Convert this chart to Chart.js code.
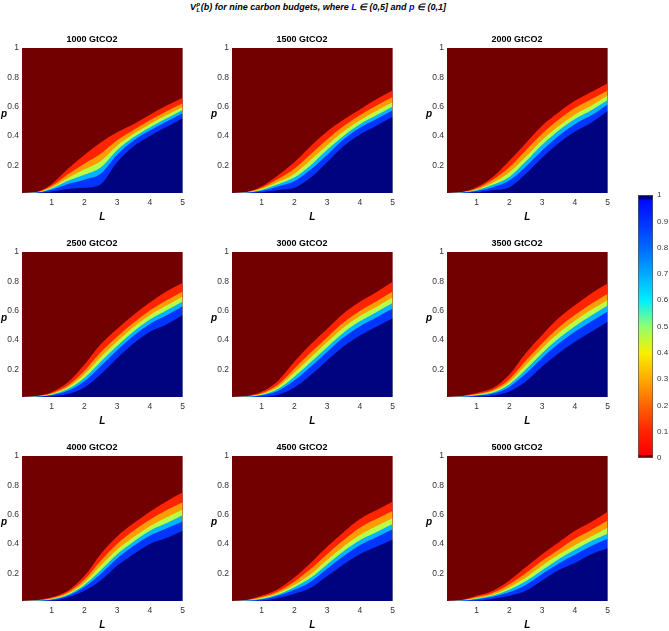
<!DOCTYPE html>
<html>
<head>
<meta charset="utf-8">
<script src="https://cdn.jsdelivr.net/npm/chart.js@4.4.1/dist/chart.umd.min.js"></script>
<style>
  html, body { margin: 0; padding: 0; background: #fff; }
  #page { position: relative; width: 669px; height: 631px; overflow: hidden; }
  .box { position: absolute; }
  #title {
    position: absolute; top: 1px; left: 190px; white-space: nowrap;
    font: italic bold 9px "Liberation Sans", Arial, sans-serif; color: #000;
    line-height: 12px;
  }
  #title .blue { color: #0000ff; }
  #title .ss {
    display: inline-flex; flex-direction: column; vertical-align: middle;
    font-size: 6px; line-height: 5.5px; margin: 0 0.5px;
  }
</style>
</head>
<body>
<div id="page">
  <div id="title">V<span class="ss"><span>p</span><span>L</span></span>(b) for nine carbon budgets, where <span class="blue">L</span> &#8712; (0,5] and <span class="blue">p</span> &#8712; (0,1]</div>
</div>
<script>
  const L_VALUES = [0.1, 0.5, 1, 1.5, 2, 2.5, 3, 3.5, 4, 4.5, 5];
  const BUDGETS = ["1000 GtCO2", "1500 GtCO2", "2000 GtCO2",
                   "2500 GtCO2", "3000 GtCO2", "3500 GtCO2",
                   "4000 GtCO2", "4500 GtCO2", "5000 GtCO2"];

  // p where the value leaves 0 (top of the coloured band), one row per budget
  const EDGE_0 = [
    [0.01, 0.015, 0.07, 0.175, 0.27, 0.355, 0.425, 0.48, 0.545, 0.605, 0.66],
    [0.01, 0.015, 0.055, 0.13, 0.22, 0.33, 0.43, 0.51, 0.58, 0.65, 0.71],
    [0.01, 0.015, 0.05, 0.12, 0.23, 0.35, 0.47, 0.56, 0.64, 0.70, 0.76],
    [0.01, 0.015, 0.042, 0.11, 0.23, 0.37, 0.475, 0.57, 0.655, 0.73, 0.79],
    [0.01, 0.015, 0.045, 0.12, 0.25, 0.37, 0.475, 0.58, 0.66, 0.725, 0.797],
    [0.01, 0.015, 0.037, 0.071, 0.162, 0.309, 0.434, 0.547, 0.637, 0.717, 0.785],
    [0.01, 0.015, 0.035, 0.08, 0.18, 0.33, 0.45, 0.54, 0.62, 0.69, 0.75],
    [0.01, 0.015, 0.045, 0.09, 0.17, 0.27, 0.38, 0.48, 0.57, 0.63, 0.69],
    [0.01, 0.015, 0.045, 0.08, 0.15, 0.24, 0.33, 0.41, 0.49, 0.55, 0.62],
  ];
  // value 0.2 contour
  const EDGE_20 = [
    [0.01, 0.014, 0.057, 0.138, 0.21, 0.278, 0.37, 0.44, 0.506, 0.566, 0.622],
    [0.01, 0.014, 0.045, 0.105, 0.175, 0.275, 0.375, 0.465, 0.54, 0.605, 0.665],
    [0.01, 0.014, 0.041, 0.10, 0.185, 0.30, 0.415, 0.51, 0.59, 0.65, 0.71],
    [0.01, 0.014, 0.035, 0.088, 0.188, 0.315, 0.421, 0.517, 0.601, 0.669, 0.731],
    [0.01, 0.014, 0.036, 0.094, 0.203, 0.313, 0.417, 0.519, 0.598, 0.662, 0.73],
    [0.01, 0.014, 0.030, 0.057, 0.131, 0.257, 0.376, 0.483, 0.57, 0.647, 0.715],
    [0.01, 0.014, 0.029, 0.069, 0.155, 0.285, 0.40, 0.49, 0.565, 0.63, 0.685],
    [0.01, 0.014, 0.037, 0.075, 0.142, 0.228, 0.33, 0.425, 0.51, 0.57, 0.625],
    [0.01, 0.014, 0.037, 0.066, 0.124, 0.20, 0.285, 0.36, 0.435, 0.495, 0.56],
  ];
  // value 0.4 contour
  const EDGE_40 = [
    [0.01, 0.013, 0.048, 0.113, 0.17, 0.227, 0.333, 0.412, 0.48, 0.54, 0.597],
    [0.01, 0.013, 0.037, 0.085, 0.14, 0.235, 0.335, 0.43, 0.505, 0.57, 0.63],
    [0.01, 0.013, 0.034, 0.08, 0.15, 0.255, 0.37, 0.465, 0.545, 0.605, 0.675],
    [0.01, 0.013, 0.030, 0.076, 0.163, 0.282, 0.389, 0.486, 0.569, 0.633, 0.695],
    [0.01, 0.013, 0.031, 0.079, 0.175, 0.28, 0.383, 0.483, 0.561, 0.624, 0.69],
    [0.01, 0.013, 0.026, 0.049, 0.113, 0.226, 0.341, 0.445, 0.53, 0.605, 0.673],
    [0.01, 0.013, 0.025, 0.06, 0.135, 0.25, 0.36, 0.445, 0.52, 0.58, 0.635],
    [0.01, 0.013, 0.03, 0.063, 0.12, 0.193, 0.29, 0.38, 0.46, 0.52, 0.575],
    [0.01, 0.013, 0.03, 0.055, 0.103, 0.168, 0.25, 0.325, 0.39, 0.45, 0.51],
  ];
  // value 0.6 contour
  const EDGE_60 = [
    [0.01, 0.012, 0.04, 0.093, 0.135, 0.184, 0.302, 0.39, 0.458, 0.518, 0.576],
    [0.01, 0.012, 0.031, 0.07, 0.115, 0.20, 0.305, 0.40, 0.48, 0.54, 0.60],
    [0.01, 0.012, 0.029, 0.066, 0.12, 0.225, 0.34, 0.435, 0.515, 0.575, 0.645],
    [0.01, 0.012, 0.026, 0.064, 0.14, 0.251, 0.359, 0.457, 0.539, 0.60, 0.662],
    [0.01, 0.012, 0.026, 0.065, 0.149, 0.248, 0.35, 0.449, 0.527, 0.589, 0.652],
    [0.01, 0.012, 0.022, 0.041, 0.096, 0.197, 0.309, 0.409, 0.493, 0.566, 0.634],
    [0.01, 0.012, 0.021, 0.053, 0.12, 0.22, 0.33, 0.415, 0.49, 0.54, 0.595],
    [0.01, 0.012, 0.025, 0.054, 0.104, 0.168, 0.26, 0.35, 0.425, 0.48, 0.535],
    [0.01, 0.012, 0.025, 0.047, 0.087, 0.144, 0.22, 0.295, 0.36, 0.42, 0.47],
  ];
  // value 0.8 contour
  const EDGE_80 = [
    [0.01, 0.011, 0.032, 0.072, 0.101, 0.141, 0.271, 0.368, 0.436, 0.496, 0.555],
    [0.01, 0.011, 0.025, 0.055, 0.09, 0.17, 0.27, 0.375, 0.455, 0.515, 0.575],
    [0.01, 0.011, 0.024, 0.05, 0.095, 0.19, 0.30, 0.40, 0.48, 0.54, 0.615],
    [0.01, 0.011, 0.022, 0.052, 0.117, 0.22, 0.329, 0.428, 0.509, 0.566, 0.629],
    [0.01, 0.011, 0.021, 0.051, 0.122, 0.217, 0.318, 0.416, 0.492, 0.553, 0.615],
    [0.01, 0.011, 0.019, 0.034, 0.079, 0.168, 0.276, 0.373, 0.455, 0.526, 0.594],
    [0.01, 0.011, 0.018, 0.046, 0.105, 0.195, 0.30, 0.385, 0.455, 0.505, 0.555],
    [0.01, 0.011, 0.02, 0.045, 0.087, 0.142, 0.23, 0.315, 0.39, 0.445, 0.50],
    [0.01, 0.011, 0.02, 0.039, 0.07, 0.12, 0.195, 0.265, 0.325, 0.385, 0.435],
  ];
  // p where the value reaches 1 (top of the dark blue area)
  const EDGE_100 = [
    [0.01, 0.01, 0.02, 0.038, 0.045, 0.07, 0.22, 0.33, 0.40, 0.46, 0.52],
    [0.01, 0.01, 0.015, 0.03, 0.045, 0.115, 0.22, 0.33, 0.41, 0.47, 0.53],
    [0.01, 0.01, 0.015, 0.03, 0.05, 0.14, 0.25, 0.35, 0.43, 0.49, 0.57],
    [0.01, 0.01, 0.015, 0.03, 0.075, 0.165, 0.275, 0.375, 0.455, 0.505, 0.57],
    [0.01, 0.01, 0.012, 0.025, 0.075, 0.16, 0.26, 0.355, 0.43, 0.49, 0.547],
    [0.01, 0.01, 0.012, 0.02, 0.048, 0.116, 0.218, 0.309, 0.388, 0.456, 0.524],
    [0.01, 0.01, 0.012, 0.035, 0.08, 0.15, 0.25, 0.33, 0.40, 0.44, 0.49],
    [0.01, 0.01, 0.012, 0.03, 0.06, 0.10, 0.18, 0.26, 0.33, 0.38, 0.43],
    [0.01, 0.01, 0.012, 0.025, 0.045, 0.08, 0.15, 0.22, 0.27, 0.33, 0.37],
  ];

  const X_TICKS = [1, 2, 3, 4, 5];
  const Y_TICKS = [0.2, 0.4, 0.6, 0.8, 1];
  const COLORBAR_TICKS = [0, 0.1, 0.2, 0.3, 0.4, 0.5, 0.6, 0.7, 0.8, 0.9, 1];

  // styles
  const FONT = '"Liberation Sans", Arial, sans-serif';
  const DARK_RED = "#720000";
  const BANDS = [
    { edges: EDGE_100, color: "#00037f" },
    { edges: EDGE_80, color: "#0034ff" },
    { edges: EDGE_60, color: "#00b4ff" },
    { edges: EDGE_40, color: "#b8ff48" },
    { edges: EDGE_20, color: "#ff9c00" },
    { edges: EDGE_0, color: "#ff2400" },
  ];
  const CMAP = [
    [0, "#720000"], [0.012, "#720000"], [0.013, "#ff0000"],
    [0.1, "#ff2200"], [0.2, "#ff6400"], [0.3, "#ffaa00"],
    [0.4, "#f8f000"], [0.5, "#90ff70"], [0.6, "#00eeff"],
    [0.7, "#00aaff"], [0.8, "#0068ff"], [0.9, "#0030ff"],
    [0.982, "#0008ff"], [0.984, "#00037f"], [1, "#00037f"],
  ];

  const COL_LEFT = [22, 232, 447];
  const ROW_TOP = [48, 252, 456];
  const PLOT_W = 162, PLOT_H = 145, Y_AXIS_W = 22, X_AXIS_H = 30, TITLE_H = 14, PAD_R = 6;

  Chart.defaults.font.family = FONT;

  const page = document.getElementById("page");
  function addCanvas(left, top, w, h) {
    const div = document.createElement("div");
    div.className = "box";
    div.style.cssText = `left:${left}px;top:${top}px;width:${w}px;height:${h}px;`;
    const cv = document.createElement("canvas");
    div.appendChild(cv);
    page.appendChild(div);
    return cv;
  }

  const areaBg = {
    id: "areaBg",
    beforeDraw(chart) {
      const { ctx, chartArea: a } = chart;
      ctx.save();
      ctx.fillStyle = DARK_RED;
      ctx.fillRect(a.left, a.top, a.right - a.left, a.bottom - a.top);
      ctx.restore();
    },
  };
  const pLabel = {
    id: "pLabel",
    afterDraw(chart) {
      const { ctx, chartArea: a } = chart;
      ctx.save();
      ctx.font = "italic bold 10px " + FONT;
      ctx.fillStyle = "#000";
      ctx.textAlign = "center";
      ctx.textBaseline = "middle";
      ctx.fillText("p", 4, (a.top + a.bottom) / 2 - 6);
      ctx.restore();
    },
  };

  BUDGETS.forEach((budget, i) => {
    const col = i % 3, row = Math.floor(i / 3);
    const cv = addCanvas(COL_LEFT[col] - Y_AXIS_W, ROW_TOP[row] - TITLE_H,
      Y_AXIS_W + PLOT_W + PAD_R, TITLE_H + PLOT_H + X_AXIS_H);

    new Chart(cv, {
      type: "line",
      data: {
        datasets: BANDS.map((b) => ({
          data: L_VALUES.map((x, j) => ({ x: x, y: b.edges[i][j] })),
          fill: "start",
          backgroundColor: b.color,
          borderColor: "rgba(0,0,0,0)",
          borderWidth: 0,
          pointRadius: 0,
          cubicInterpolationMode: "monotone",
        })),
      },
      options: {
        animation: false,
        responsive: true,
        maintainAspectRatio: false,
        layout: { padding: { top: 0, bottom: 0, left: 0, right: PAD_R } },
        plugins: {
          legend: { display: false },
          tooltip: { enabled: false },
          title: {
            display: true,
            text: budget,
            color: "#000",
            font: { size: 9, weight: "bold" },
            padding: { top: 0, bottom: 3.2 },
          },
        },
        scales: {
          x: {
            type: "linear",
            min: 0.1,
            max: 5,
            afterBuildTicks: (s) => { s.ticks = X_TICKS.map((v) => ({ value: v })); },
            afterFit: (s) => { s.height = X_AXIS_H; },
            grid: { display: false, drawTicks: false },
            border: { display: false },
            ticks: { color: "#333", font: { size: 8.5 }, padding: 5, maxRotation: 0 },
            title: {
              display: true,
              text: "L",
              color: "#000",
              font: { size: 10, weight: "bold", style: "italic" },
              padding: 0,
            },
          },
          y: {
            min: 0.01,
            max: 1,
            afterBuildTicks: (s) => { s.ticks = Y_TICKS.map((v) => ({ value: v })); },
            afterFit: (s) => { s.width = Y_AXIS_W; },
            grid: { display: false, drawTicks: false },
            border: { display: false },
            ticks: { color: "#333", font: { size: 8.5 }, padding: 3, callback: (v) => String(v) },
          },
        },
      },
      plugins: [areaBg, pLabel],
    });
  });

  // colour bar
  const cb = addCanvas(638, 185, 31, 283);
  new Chart(cb, {
    type: "bar",
    data: {
      labels: [""],
      datasets: [{
        data: [[0, 1]],
        backgroundColor: (c) => {
          const a = c.chart.chartArea;
          if (!a) return "#ffaa00";
          const g = c.chart.ctx.createLinearGradient(0, a.bottom, 0, a.top);
          CMAP.forEach(([t, color]) => g.addColorStop(t, color));
          return g;
        },
        borderColor: "#555",
        borderWidth: 1,
        borderSkipped: false,
        barPercentage: 1,
        categoryPercentage: 1,
      }],
    },
    options: {
      animation: false,
      responsive: true,
      maintainAspectRatio: false,
      layout: { padding: { top: 10, bottom: 10, left: 0, right: 0 } },
      plugins: { legend: { display: false }, tooltip: { enabled: false } },
      scales: {
        x: { display: false },
        y: {
          position: "right",
          min: 0,
          max: 1,
          afterBuildTicks: (s) => { s.ticks = COLORBAR_TICKS.map((v) => ({ value: v })); },
          afterFit: (s) => { s.width = 16; },
          grid: { display: false, drawTicks: false },
          border: { display: false },
          ticks: { color: "#333", font: { size: 8 }, padding: 4, callback: (v) => String(v) },
        },
      },
    },
  });
</script>
</body>
</html>
